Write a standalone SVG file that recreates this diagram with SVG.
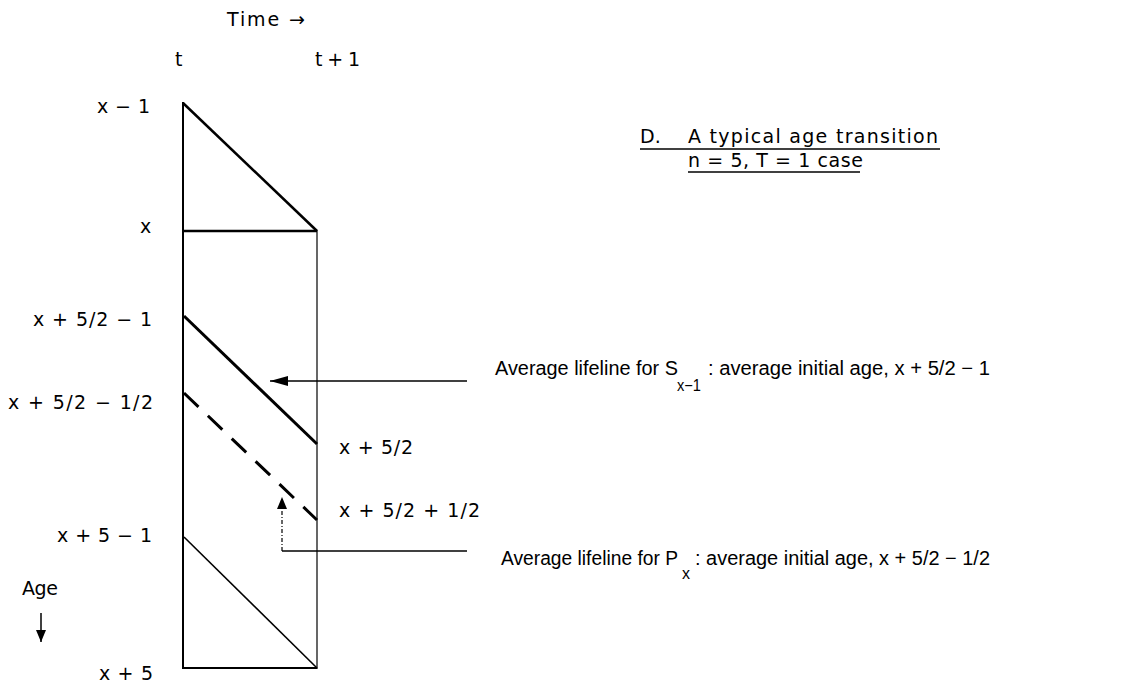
<svg xmlns="http://www.w3.org/2000/svg" width="1121" height="698" viewBox="0 0 1121 698">
<style>
text{font-family:"DejaVu Sans","Liberation Sans",Arial,sans-serif;font-size:19px;fill:#000}
.ann{font-family:"Liberation Sans",Arial,sans-serif;font-size:20px}
.ln{stroke:#000;fill:none}
.sub{font-family:"Liberation Sans",Arial,sans-serif;font-size:16px}
</style>
<defs>
<marker id="ah" markerWidth="18" markerHeight="10" refX="18" refY="5" orient="auto" markerUnits="userSpaceOnUse"><path d="M0,0 L18,5 L0,10 Z" fill="#000"/></marker>
<marker id="ah2" markerWidth="12" markerHeight="10" refX="12" refY="5" orient="auto" markerUnits="userSpaceOnUse"><path d="M0,0 L12,5 L0,10 Z" fill="#000"/></marker>
</defs>
<rect width="1121" height="698" fill="#fff"/>
<g id="axes-labels">
<text x="227" y="26" textLength="78" lengthAdjust="spacing">Time →</text>
<text x="175" y="66">t</text>
<text x="315" y="66" textLength="45" lengthAdjust="spacing">t + 1</text>
<text x="22" y="595" textLength="36" lengthAdjust="spacing">Age</text>
</g>
<g id="age-labels">
<text x="97" y="113" textLength="53" lengthAdjust="spacing">x − 1</text>
<text x="140" y="233">x</text>
<text x="33" y="326" textLength="119" lengthAdjust="spacing">x + 5/2 − 1</text>
<text x="8" y="409" textLength="145" lengthAdjust="spacing">x + 5/2 − 1/2</text>
<text x="57" y="542" textLength="95" lengthAdjust="spacing">x + 5 − 1</text>
<text x="99" y="680" textLength="54" lengthAdjust="spacing">x + 5</text>
</g>
<g id="right-labels">
<text x="339" y="454" textLength="74" lengthAdjust="spacing">x + 5/2</text>
<text x="339" y="517" textLength="141" lengthAdjust="spacing">x + 5/2 + 1/2</text>
</g>
<g id="title">
<text x="640" y="143">D.</text>
<text x="688" y="143" textLength="250" lengthAdjust="spacing">A typical age transition</text>
<line class="ln" x1="640" y1="149" x2="940" y2="149" stroke-width="1.5"/>
<text x="688" y="167" textLength="175" lengthAdjust="spacing">n = 5, T = 1 case</text>
<line class="ln" x1="688" y1="172" x2="860" y2="172" stroke-width="1.5"/>
</g>
<g id="diagram">
<line class="ln" x1="183" y1="102" x2="183" y2="669" stroke-width="2"/>
<line class="ln" x1="317" y1="230" x2="317" y2="669" stroke-width="1.2"/>
<line class="ln" x1="183" y1="103" x2="317" y2="231" stroke-width="2.5"/>
<line class="ln" x1="183" y1="231" x2="317" y2="231" stroke-width="2.5"/>
<line class="ln" x1="184" y1="316" x2="317" y2="444" stroke-width="3"/>
<line class="ln" x1="184" y1="393" x2="317" y2="520" stroke-width="3" stroke-dasharray="20,13"/>
<line class="ln" x1="184" y1="537" x2="317" y2="668" stroke-width="1.6"/>
<line class="ln" x1="183" y1="668" x2="317" y2="668" stroke-width="2.2"/>
</g>
<g id="connectors">
<line class="ln" x1="467" y1="381" x2="270" y2="381" stroke-width="1.5" marker-end="url(#ah)"/>
<polyline class="ln" points="467,551 282,551" stroke-width="1.5"/>
<line class="ln" x1="282" y1="551" x2="282" y2="497" stroke-width="1.2" stroke-dasharray="4,2,1,2" marker-end="url(#ah2)"/>
<line class="ln" x1="41" y1="613" x2="41" y2="642" stroke-width="1.5" marker-end="url(#ah2)"/>
</g>
<g id="annotations">
<text class="ann" x="495" y="375" textLength="183" lengthAdjust="spacingAndGlyphs">Average lifeline for S</text>
<text class="sub" x="677" y="391" textLength="24" lengthAdjust="spacingAndGlyphs">x−1</text>
<text class="ann" x="708" y="375" textLength="282" lengthAdjust="spacingAndGlyphs">: average initial age, x + 5/2 − 1</text>
<text class="ann" x="501" y="565" textLength="177" lengthAdjust="spacingAndGlyphs">Average lifeline for P</text>
<text class="sub" x="682" y="579">x</text>
<text class="ann" x="695" y="565" textLength="295" lengthAdjust="spacingAndGlyphs">: average initial age, x + 5/2 − 1/2</text>
</g>
</svg>
